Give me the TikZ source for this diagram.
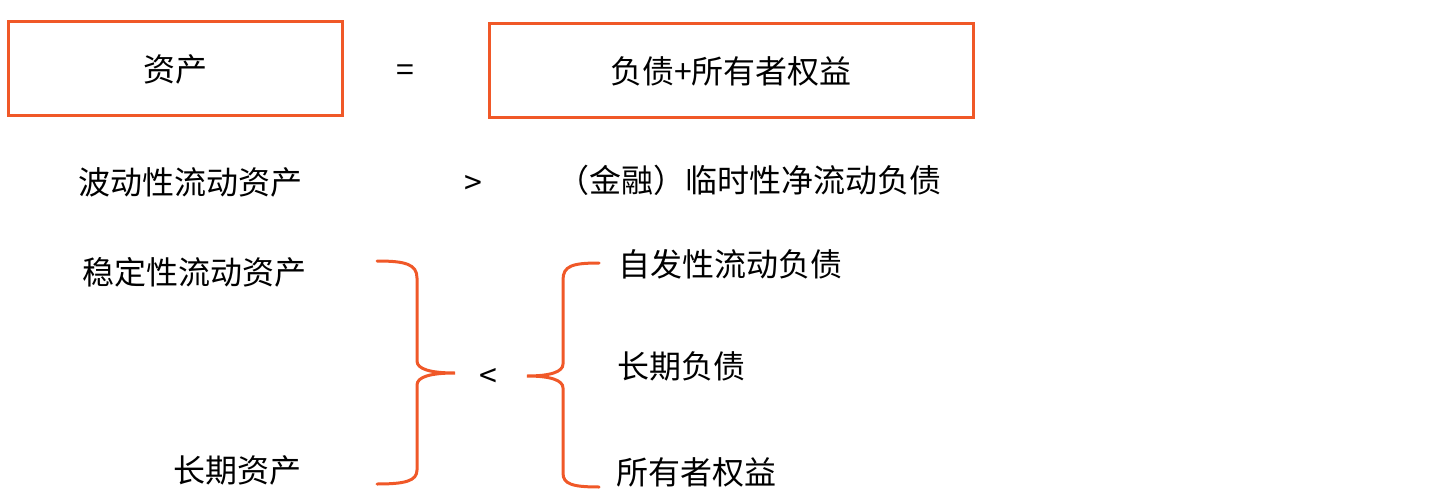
\documentclass[tikz,border=0pt]{standalone}
\usepackage{fontspec}
\newfontfamily\cjk{Noto Sans CJK SC}
\definecolor{boxred}{RGB}{240,88,40}
\begin{document}
\begin{tikzpicture}[x=1pt,y=-1pt,
        every node/.style={font=\cjk\fontsize{32}{37}\selectfont,inner sep=0pt},
        frame/.style={draw=boxred,line width=3pt,minimum height=94},
        brace/.style={draw=boxred,line width=3pt,line cap=round}]
    \useasboundingbox (0,0) rectangle (1439,500);

    % top line
    \node[frame,minimum width=334] (assets) at (175,69) {资产};
    \node (eq) at (405,73) {=};
    \node[frame,minimum width=484] (claims) at (731,71) {负债+所有者权益};

    % second line
    \node (floatasset) at (190,182) {波动性流动资产};
    \node (gt) at (473,185) {>};
    \node (tempdebt) at (749,180) {（金融）临时性净流动负债};

    % lower block
    \node (stableasset) at (194,272) {稳定性流动资产};
    \node (longasset) at (237,470) {长期资产};
    \node (lt) at (488,378) {<};
    \node (selfdebt) at (730,264) {自发性流动负债};
    \node (longdebt) at (681,366) {长期负债};
    \node (equity) at (696,472) {所有者权益};

    \draw[brace] (377,261) .. controls (405,261) and (417,264) .. (417,278)
        -- (417,361) .. controls (417,369) and (430,373) .. (455,373)
        .. controls (430,373) and (417,377) .. (417,385)
        -- (417,470) .. controls (417,481) and (405,484) .. (377,484);
    \draw[brace] (599,263) .. controls (572,263) and (563,266) .. (563,280)
        -- (563,364) .. controls (563,372) and (550,376) .. (527,376)
        .. controls (550,376) and (563,380) .. (563,388)
        -- (563,473) .. controls (563,484) and (572,487) .. (599,487);
\end{tikzpicture}
\end{document}
